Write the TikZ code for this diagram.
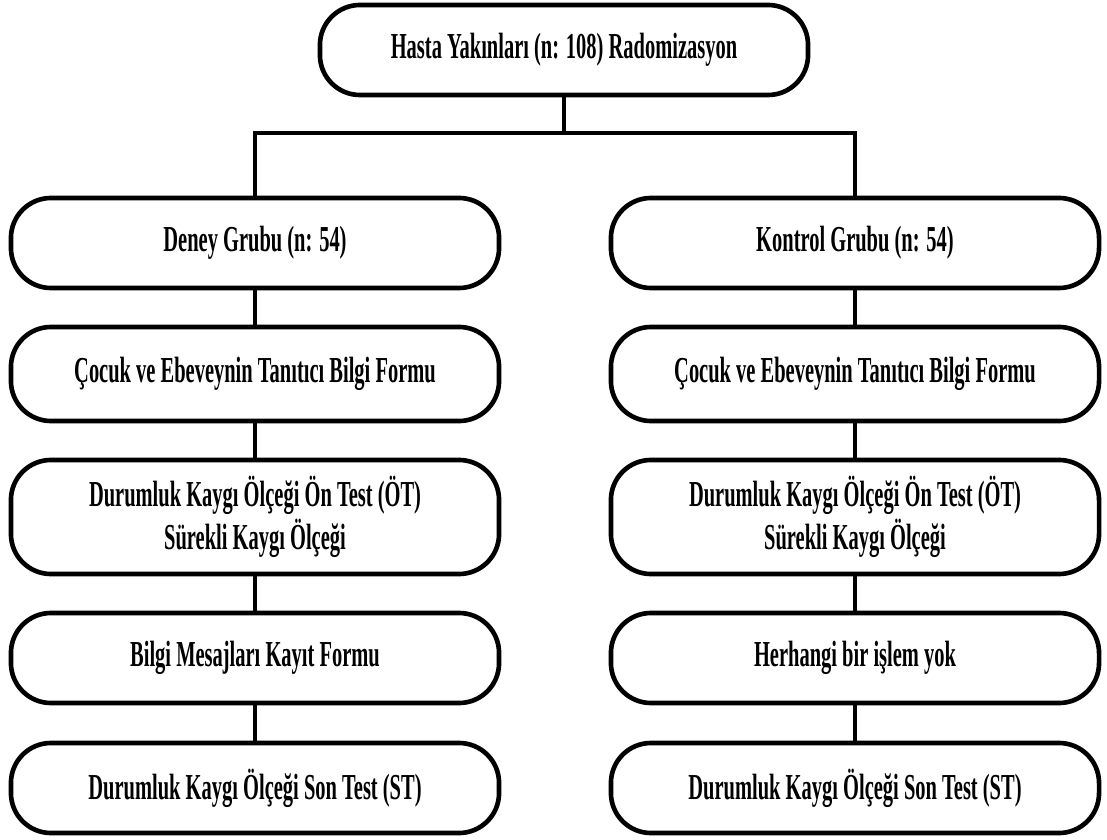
\documentclass[tikz,border=0pt]{standalone}
\usepackage{fontspec}
\setmainfont{Liberation Serif}[FakeStretch=0.56]
\usepackage{tikz}
\usetikzlibrary{positioning,calc}

\tikzset{
    flowbox/.style={draw, line width=3.3pt, rounded corners=1cm,
        minimum width=12.2cm, minimum height=2.25cm, align=center,
        font=\fontsize{26}{30.5}\selectfont\bfseries},
    link/.style={line width=3.3pt}
}

\begin{document}
\begin{tikzpicture}[x=0.025cm,y=-0.025cm]
    \useasboundingbox (0,0) rectangle (1107,840);

    % Randomisation
    \node[flowbox] (top) at (564,50) {Hasta Yakınları (n: 108) Radomizasyon};
    \coordinate (split) at (564,133);

    % Deney grubu (left)
    \node[flowbox] (d1) at (255,243) {Deney Grubu (n: 54)};
    \node[flowbox,minimum height=2.35cm] (d2) at (255,374) {Çocuk ve Ebeveynin Tanıtıcı Bilgi Formu};
    \node[flowbox,minimum height=2.85cm] (d3) at (255,517) {Durumluk Kaygı Ölçeği Ön Test (ÖT)\\Sürekli Kaygı Ölçeği};
    \node[flowbox] (d4) at (255,658) {Bilgi Mesajları Kayıt Formu};
    \node[flowbox] (d5) at (255,788) {Durumluk Kaygı Ölçeği Son Test (ST)};

    % Kontrol grubu (right)
    \node[flowbox] (k1) at (855,243) {Kontrol Grubu (n: 54)};
    \node[flowbox,minimum height=2.35cm] (k2) at (855,374) {Çocuk ve Ebeveynin Tanıtıcı Bilgi Formu};
    \node[flowbox,minimum height=2.85cm] (k3) at (855,517) {Durumluk Kaygı Ölçeği Ön Test (ÖT)\\Sürekli Kaygı Ölçeği};
    \node[flowbox] (k4) at (855,658) {Herhangi bir işlem yok};
    \node[flowbox] (k5) at (855,788) {Durumluk Kaygı Ölçeği Son Test (ST)};

    % connectors
    \draw[link] (top.south) -- (split);
    \draw[link] (d1.north) |- (split) -| (k1.north);
    \foreach \a/\b in {d1/d2,d2/d3,d3/d4,d4/d5,k1/k2,k2/k3,k3/k4,k4/k5}
        \draw[link] (\a.south) -- (\b.north);
\end{tikzpicture}
\end{document}
